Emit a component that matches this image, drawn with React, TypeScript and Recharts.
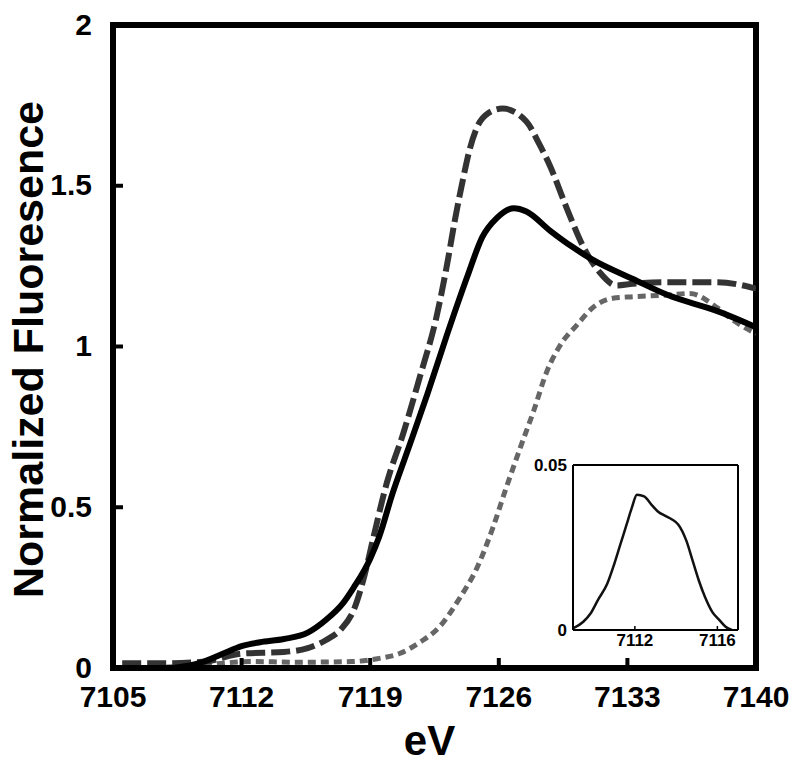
import React from "react";
import { LineChart, Line, XAxis, YAxis, ReferenceLine } from "recharts";

/* ---- data ---- */
const xTicks = [7105, 7112, 7119, 7126, 7133, 7140];
const yTicks = [0, 0.5, 1, 1.5, 2];

// solid black trace
const solidE = [7108.3, 7109.7, 7111.0, 7112.0, 7113.0, 7114.3, 7115.6, 7116.6, 7117.5, 7118.1, 7119.0, 7119.5, 7120.2, 7121.0, 7122.1, 7123.2, 7124.3, 7125.1, 7125.9, 7126.8, 7127.5, 7128.8, 7130.0, 7131.1, 7133.3, 7135.2, 7137.9, 7140];
const solidV = [0, 0.015, 0.045, 0.068, 0.08, 0.09, 0.11, 0.15, 0.2, 0.25, 0.34, 0.41, 0.54, 0.67, 0.85, 1.04, 1.22, 1.34, 1.4, 1.43, 1.42, 1.36, 1.31, 1.27, 1.21, 1.16, 1.11, 1.06];

// long-dashed dark trace
const dashE = [7105.5, 7108, 7110, 7112, 7114.3, 7115.6, 7116.6, 7117.4, 7118.1, 7118.7, 7119.15, 7119.9, 7120.8, 7121.7, 7122.6, 7123.2, 7123.6, 7124.05, 7124.4, 7124.8, 7125.4, 7126.2, 7127.5, 7128.2, 7128.8, 7129.7, 7130.6, 7131.5, 7132.4, 7133.3, 7135.2, 7137.9, 7140];
const dashV = [0.015, 0.015, 0.02, 0.045, 0.05, 0.062, 0.087, 0.12, 0.18, 0.29, 0.4, 0.575, 0.73, 0.905, 1.09, 1.26, 1.39, 1.52, 1.61, 1.68, 1.725, 1.74, 1.7, 1.63, 1.56, 1.43, 1.31, 1.23, 1.19, 1.195, 1.2, 1.2, 1.18];

// short-dashed grey trace
const dotE = [7105, 7108, 7110, 7112.5, 7115, 7118, 7119.5, 7120.6, 7121.7, 7122.8, 7123.9, 7124.8, 7125.7, 7126.4, 7127.2, 7127.9, 7128.6, 7129.3, 7130.3, 7131.1, 7132.2, 7133.3, 7135.2, 7136.4, 7137.9, 7138.8, 7140];
const dotV = [0, 0.003, 0.01, 0.02, 0.018, 0.02, 0.03, 0.045, 0.08, 0.13, 0.22, 0.31, 0.44, 0.56, 0.69, 0.8, 0.92, 1.0, 1.07, 1.12, 1.15, 1.155, 1.16, 1.165, 1.12, 1.08, 1.04];

// inset (pre-edge)
const insetTicks = [7112, 7116];
const insetYTicks = [0, 0.05];
const insetE = [7109, 7109.5, 7109.85, 7110.2, 7110.66, 7111.0, 7111.3, 7111.6, 7111.85, 7112.1, 7112.45, 7112.8, 7113.1, 7113.5, 7113.8, 7114.1, 7114.5, 7114.8, 7115.1, 7115.4, 7115.75, 7116.1, 7116.4, 7116.7];
const insetV = [0.0005, 0.0025, 0.005, 0.009, 0.014, 0.02, 0.026, 0.032, 0.037, 0.041, 0.0405, 0.038, 0.036, 0.0345, 0.0335, 0.032, 0.027, 0.021, 0.015, 0.01, 0.0055, 0.003, 0.001, 0];

const zip = (e: number[], v: number[]) => e.map((x, i) => ({ x, y: v[i] }));
const solid = zip(solidE, solidV);
const dashed = zip(dashE, dashV);
const dotted = zip(dotE, dotV);
const inset = zip(insetE, insetV);

const FONT = "'Liberation Sans', Arial, sans-serif";
const frame = { stroke: "#000", strokeWidth: 6, strokeLinecap: "square" as const };
const smallTick = { fontFamily: FONT, fontSize: 17, fontWeight: 700, fill: "#000" };

// inward tick marks drawn together with the labels
const Y_GAP = 21;
const X_GAP = 18;

const YTick = (p: any) => (
  <g>
    <line x1={p.x + Y_GAP} x2={p.x + Y_GAP + 10} y1={p.y} y2={p.y} stroke="#000" strokeWidth={4} />
    <text x={p.x} y={p.y} dy="0.32em" textAnchor="end" fontFamily={FONT} fontSize={30} fontWeight={700} fill="#000">
      {p.payload.value}
    </text>
  </g>
);

const XTick = (p: any) => (
  <g>
    <line x1={p.x} x2={p.x} y1={p.y - X_GAP} y2={p.y - X_GAP - 10} stroke="#000" strokeWidth={4} />
    <text x={p.x} y={p.y} dy="0.71em" textAnchor="middle" fontFamily={FONT} fontSize={30} fontWeight={700} fill="#000">
      {p.payload.value}
    </text>
  </g>
);

const InsetXTick = (p: any) => (
  <g>
    <line x1={p.x} x2={p.x} y1={p.y - 4} y2={p.y - 8} stroke="#000" strokeWidth={1.5} />
    <text x={p.x} y={p.y} dy="0.71em" textAnchor="middle" {...smallTick}>
      {p.payload.value}
    </text>
  </g>
);

const YTitle = (props: any) => {
  const vb = props.viewBox;
  const x = vb.x + 43;
  const y = vb.y + vb.height / 2 + 3;
  return (
    <text x={x} y={y} transform={`rotate(-90, ${x}, ${y})`} textAnchor="middle"
      fontFamily={FONT} fontSize={43} fontWeight={700} fill="#000">
      Normalized Fluoresence
    </text>
  );
};

const XTitle = (props: any) => {
  const vb = props.viewBox;
  return (
    <text x={vb.x + vb.width / 2 - 5} y={vb.y + 87} textAnchor="middle"
      fontFamily={FONT} fontSize={42} fontWeight={700} fill="#000">
      eV
    </text>
  );
};

export default function App() {
  return (
    <div style={{ position: "absolute", left: 0, top: 0, width: 800, height: 764, background: "#fff" }}>
      <LineChart width={800} height={764} margin={{ top: 25, right: 44, left: 0, bottom: 6 }}>
        <XAxis
          dataKey="x"
          type="number"
          domain={[7105, 7140]}
          ticks={xTicks}
          interval={0}
          allowDataOverflow
          height={90}
          tick={<XTick />}
          tickSize={0}
          tickMargin={X_GAP}
          tickLine={false}
          axisLine={frame}
          label={XTitle}
        />
        <YAxis
          type="number"
          domain={[0, 2]}
          ticks={yTicks}
          interval={0}
          allowDataOverflow
          width={113}
          tick={<YTick />}
          tickSize={0}
          tickMargin={Y_GAP}
          tickLine={false}
          axisLine={frame}
          label={YTitle}
        />
        <ReferenceLine y={2} {...frame} />
        <ReferenceLine x={7140} {...frame} />
        <Line data={dotted} dataKey="y" type="monotone" stroke="#666" strokeWidth={5}
          strokeDasharray="8 5" dot={false} isAnimationActive={false} />
        <Line data={dashed} dataKey="y" type="monotone" stroke="#333" strokeWidth={6}
          strokeDasharray="19 6" dot={false} isAnimationActive={false} />
        <Line data={solid} dataKey="y" type="monotone" stroke="#000" strokeWidth={6}
          dot={false} isAnimationActive={false} />
      </LineChart>

      <div style={{ position: "absolute", left: 513, top: 445 }}>
        <LineChart width={240} height={215} margin={{ top: 20, right: 15, left: 0, bottom: 5 }}>
          <XAxis
            dataKey="x"
            type="number"
            domain={[7109, 7117]}
            ticks={insetTicks}
            interval={0}
            allowDataOverflow
            height={25}
            tick={<InsetXTick />}
            tickSize={0}
            tickMargin={4}
            tickLine={false}
            axisLine={{ stroke: "#000", strokeWidth: 2 }}
          />
          <YAxis
            type="number"
            domain={[0, 0.05]}
            ticks={insetYTicks}
            interval={0}
            allowDataOverflow
            width={60}
            tick={smallTick}
            tickSize={0}
            tickMargin={6}
            tickLine={false}
            axisLine={{ stroke: "#000", strokeWidth: 2 }}
          />
          <ReferenceLine y={0.05} stroke="#000" strokeWidth={2} />
          <ReferenceLine x={7117} stroke="#000" strokeWidth={2} />
          <Line data={inset} dataKey="y" type="monotone" stroke="#111" strokeWidth={2.5}
            dot={false} isAnimationActive={false} />
        </LineChart>
      </div>
    </div>
  );
}
